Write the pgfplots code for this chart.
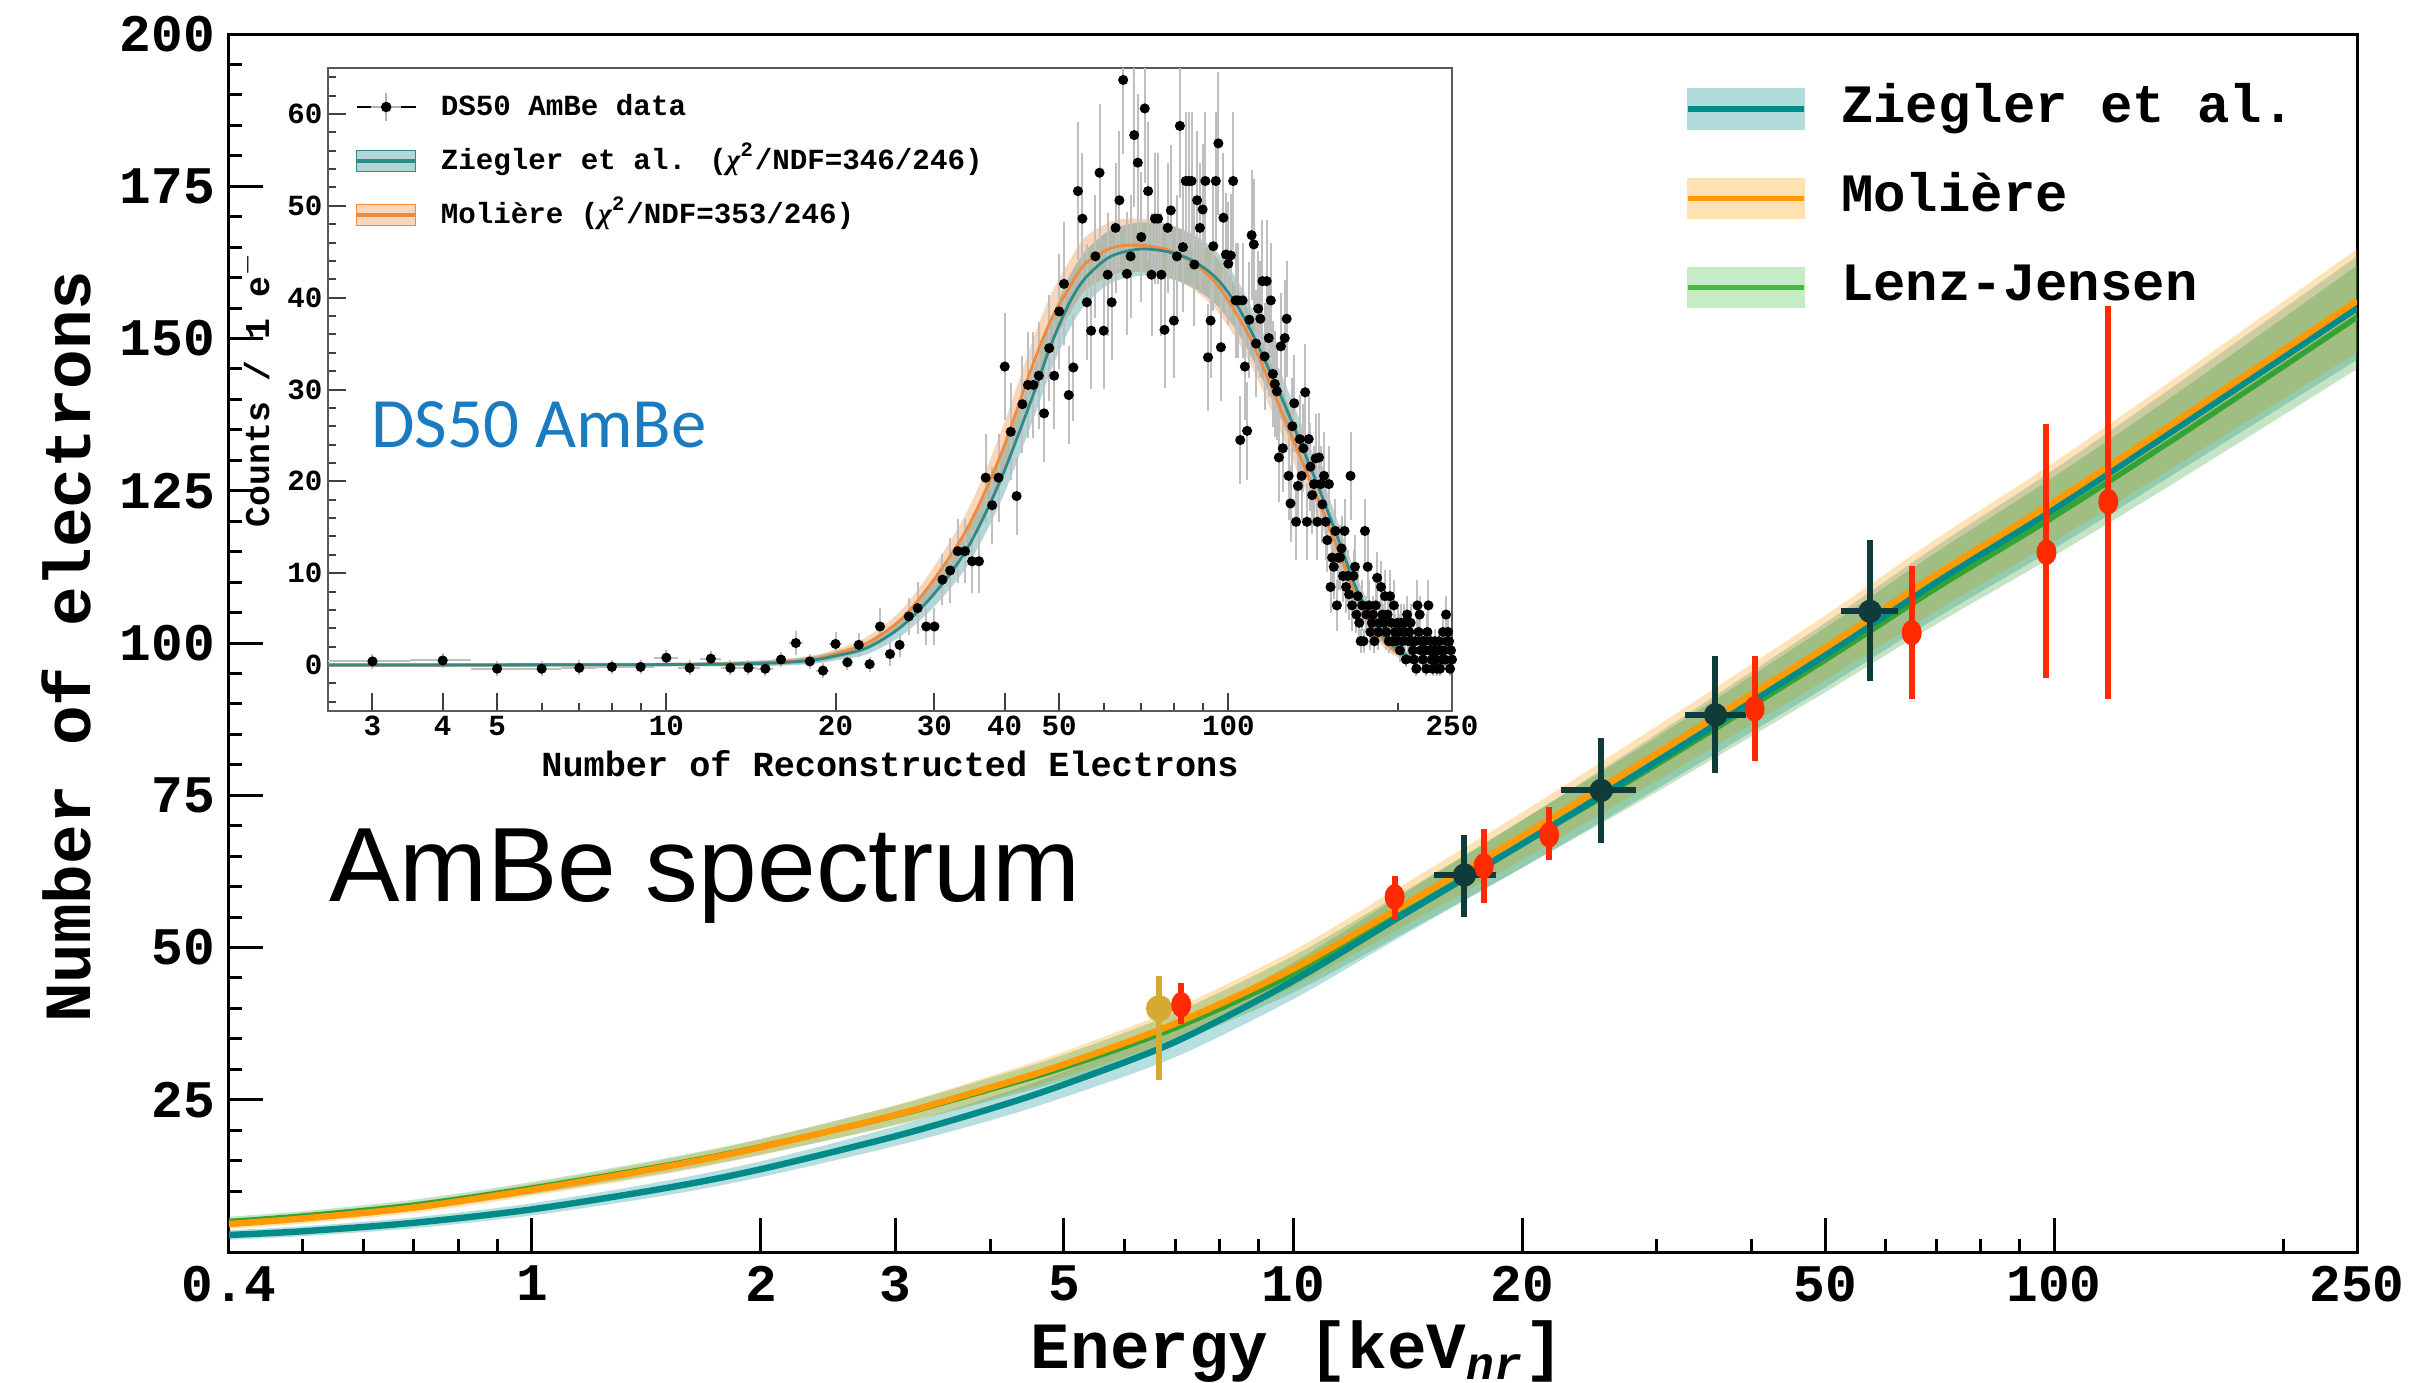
\documentclass[border=0pt]{standalone}
\usepackage{amsmath}
\usepackage{fontspec}
\setmainfont{Liberation Sans}
\newfontfamily\mono{Liberation Mono}
\newfontfamily\serifb{Liberation Serif}
\newfontfamily\dsfont{Carlito}
\usepackage{pgfplots}
\usepackage{pgfplotstable}
\usepgfplotslibrary{fillbetween}
\pgfplotsset{compat=1.18}

\definecolor{zteal}{HTML}{008B8B}
\definecolor{morange}{HTML}{FF9A00}
\definecolor{lgreen}{HTML}{3CC03C}
\definecolor{ptdark}{HTML}{0F3B3B}
\definecolor{ptred}{HTML}{FF2A00}
\definecolor{ptyel}{HTML}{D6AA30}
\definecolor{dsblue}{HTML}{1A7BC0}
\definecolor{iteal}{HTML}{2E8B8B}
\definecolor{iorange}{HTML}{F08A3C}

% main plot model curves: x  y  lo  hi
\pgfplotstableread{
x y lo hi
0.4 2.8 2.0 3.6
0.5 3.4 2.6 4.2
0.7 4.8 3.9 5.7
1 7.0 6.0 8.0
1.5 10.5 9.3 11.7
2 13.6 12.3 14.9
3 19.0 17.4 20.6
4 23.5 21.6 25.4
5 27.5 25.4 29.6
7 34.5 32.0 37.0
10 44.5 41.5 47.5
14 55.5 52.1 58.9
20 67.0 63.1 70.9
30 80.5 76.0 85.0
50 98.0 92.7 103.3
70 110.0 104.1 115.9
100 122.0 115.5 128.5
150 136.5 129.2 143.8
250 155.0 146.5 163.5
}\zie
\pgfplotstableread{
x y lo hi
0.4 4.6 3.8 5.4
0.5 5.5 4.7 6.3
0.7 7.3 6.4 8.2
1 10.2 9.2 11.2
1.5 14.0 12.8 15.2
2 17.2 15.9 18.5
3 22.5 20.9 24.1
4 27.0 25.1 28.9
5 30.8 28.7 32.9
7 37.5 35.0 40.0
10 46.5 43.5 49.5
14 57.0 53.6 60.4
20 68.3 64.4 72.2
30 81.8 77.3 86.3
50 99.2 93.9 104.5
70 111.2 105.3 117.1
100 123.2 116.7 129.7
150 137.7 130.4 145.0
250 156.2 147.7 164.7
}\mol
\pgfplotstableread{
x y lo hi
0.4 5.0 4.2 5.8
0.5 5.9 5.1 6.7
0.7 7.7 6.8 8.6
1 10.5 9.5 11.5
1.5 14.2 13.0 15.4
2 17.3 16.0 18.6
3 22.4 20.8 24.0
4 26.7 24.8 28.6
5 30.3 28.2 32.4
7 36.8 34.3 39.3
10 45.6 42.6 48.6
14 55.8 52.4 59.2
20 67.0 63.1 70.9
30 80.0 75.5 84.5
50 97.2 91.9 102.5
70 109.0 103.1 114.9
100 120.8 114.3 127.3
150 135.0 127.7 142.3
250 153.5 145.0 162.0
}\lenz

% main plot measurements
\pgfplotstableread{
x y xm xp ym yp
16.8 61.9 1.5 1.7 6.9 6.6
25.4 75.8 2.9 2.8 8.6 8.6
35.9 88.2 3.2 3.5 9.6 9.7
57.3 105.2 4.9 5.1 11.4 11.7
}\dark
\pgfplotstableread{
x y ym yp
7.13 40.6 3.1 3.5
13.6 58.3 3.8 3.5
17.8 63.4 6.1 6.1
21.7 68.5 4.1 4.5
40.4 89.2 8.6 8.7
65.0 101.7 10.9 10.9
97.7 114.9 20.6 21.0
117.8 123.2 32.4 32.2
}\red
\pgfplotstableread{
x y ym yp
6.67 40.0 11.7 5.4
}\yel

% inset fits: n y lo hi
\pgfplotstableread{
n y lo hi
2.5 0.0 -0.2 0.2
10 0.05 -0.15 0.25
15 0.2 -0.1 0.5
18 0.5 0.1 0.9
20 1.0 0.5 1.5
22.8 1.9 1.2 2.6
26.2 4.2 3.2 5.2
30 7.8 6.4 9.2
34.4 12.8 10.9 14.7
39.3 20.1 17.7 22.5
45 29.5 26.8 32.2
48.3 34.8 32.0 37.6
52 39.3 36.4 42.2
55.4 42.0 39.1 44.9
60 44.0 41.1 46.9
63.6 44.8 41.9 47.7
70 45.3 42.4 48.2
78 45.0 42.1 47.9
86.6 44.0 41.1 46.9
95.3 42.1 39.2 45.0
103.5 39.2 36.4 42.0
111.3 35.6 32.9 38.3
124 29.3 26.8 31.8
134 24.4 22.1 26.7
145 19.2 17.1 21.3
156.9 13.7 11.9 15.5
169 8.3 6.9 9.7
183 4.3 3.3 5.3
197.8 1.9 1.3 2.5
216 0.65 0.25 1.05
250 0.2 -0.1 0.5
}\fitz
\pgfplotstableread{
n y lo hi
2.5 0.0 -0.2 0.2
10 0.06 -0.14 0.26
15 0.25 -0.05 0.55
18 0.6 0.2 1.0
20 1.2 0.7 1.7
22.8 2.4 1.7 3.1
26.2 5.0 4.0 6.0
30 9.4 8.0 10.8
34.4 15.0 13.1 16.9
39.3 22.8 20.4 25.2
45 32.9 30.2 35.6
48.3 37.5 34.7 40.3
52 41.0 38.1 43.9
55.4 43.6 40.7 46.5
60 45.0 42.1 47.9
63.6 45.6 42.7 48.5
70 45.7 42.8 48.6
78 45.2 42.3 48.1
86.6 43.8 40.9 46.7
95.3 41.5 38.6 44.4
103.5 38.2 35.4 41.0
111.3 34.6 31.9 37.3
124 27.8 25.3 30.3
134 22.8 20.5 25.1
145 17.8 15.7 19.9
156.9 12.5 10.7 14.3
169 7.5 6.1 8.9
183 3.8 2.8 4.8
197.8 1.6 1.0 2.2
216 0.55 0.15 0.95
250 0.15 -0.15 0.45
}\fitm

% inset data: n counts error
\pgfplotstableread{
n c e
3 0.4 0.8
4 0.5 0.8
5 -0.4 0.8
6 -0.4 0.8
7 -0.3 0.8
8 -0.2 0.8
9 -0.2 0.8
10 0.8 0.8
11 -0.3 0.8
12 0.7 0.8
13 -0.3 0.8
14 -0.3 0.8
15 -0.4 0.8
16 0.6 0.8
17 2.4 1.3
18 0.4 0.8
19 -0.6 0.8
20 2.3 1.3
21 0.3 0.8
22 2.2 1.3
23 0.1 0.8
24 4.2 2.0
25 1.2 1.3
26 2.2 1.3
27 5.3 2.0
28 6.2 2.8
29 4.2 2.0
30 4.2 2.0
31 9.3 2.8
32 10.3 3.5
33 12.4 3.5
34 12.4 3.5
35 11.3 3.5
36 11.3 3.5
37 20.4 4.8
38 17.4 4.2
39 20.4 4.8
40 32.5 5.8
41 25.4 5.3
42 18.4 4.2
43 28.4 5.3
44 30.5 5.8
45 30.5 5.8
46 31.5 5.8
47 27.4 5.3
48 34.5 5.8
49 31.5 5.8
50 38.5 6.3
51 41.5 6.7
52 29.4 5.3
53 32.4 5.8
54 51.6 7.5
55 48.6 7.1
56 39.5 6.3
57 36.4 6.3
58 44.5 6.7
59 53.6 7.5
60 36.4 6.3
61 42.5 6.7
62 39.5 6.3
63 47.6 7.1
64 50.6 7.5
65 63.7 8.1
66 42.6 6.7
67 44.5 6.7
68 57.7 7.8
69 54.7 7.5
70 46.6 7.1
71 60.6 8.1
72 51.6 7.5
73 42.5 6.7
74 48.6 7.1
75 48.6 7.1
76 42.5 6.7
77 36.5 6.3
78 47.6 7.1
79 49.5 7.1
80 37.5 6.3
81 44.5 6.7
82 58.7 7.8
83 45.5 7.1
84 52.7 7.5
85 52.7 7.5
86 52.7 7.5
87 43.6 6.7
88 50.6 7.5
89 47.6 7.1
90 49.6 7.1
91 52.7 7.5
92 33.5 5.8
93 37.5 6.3
94 45.6 7.1
95 52.7 7.5
96 56.8 7.8
97 34.6 5.8
98 48.7 7.1
99 44.7 6.7
100 43.7 6.7
101 44.6 6.7
102 52.7 7.5
103 39.7 6.3
104 39.7 6.3
105 24.5 4.8
106 39.7 6.3
107 32.5 5.8
108 25.5 5.3
109 37.6 6.3
110 46.8 7.1
111 45.8 7.1
112 35.0 5.8
113 38.8 6.3
114 37.7 6.3
115 41.8 6.7
116 33.6 5.8
117 41.8 6.7
118 35.6 6.3
119 39.7 6.3
120 31.7 5.8
121 30.6 5.8
122 29.8 5.3
123 22.6 4.8
124 34.7 5.8
125 23.6 4.8
126 35.6 6.3
127 37.7 6.3
128 20.6 4.8
129 17.6 4.2
130 26.0 5.3
131 28.5 5.3
132 15.6 4.2
133 19.5 4.2
134 24.6 4.8
135 20.6 4.8
136 23.6 4.8
137 29.7 5.3
138 15.6 4.2
139 24.6 4.8
140 21.6 4.8
141 18.5 4.2
142 19.7 4.2
143 22.5 4.8
144 15.6 4.2
145 22.6 4.8
146 19.7 4.2
147 17.5 4.2
148 20.6 4.8
149 15.6 4.2
150 13.6 3.5
151 19.7 4.2
152 8.5 2.8
153 11.7 3.5
154 10.7 3.5
155 14.6 3.5
156 6.5 2.8
157 11.7 3.5
158 11.7 3.5
159 12.7 3.5
160 9.7 2.8
161 14.6 3.5
162 8.5 2.8
163 9.7 2.8
164 7.7 2.8
165 20.6 4.8
166 6.5 2.8
167 9.7 2.8
168 10.7 3.5
169 5.5 2.0
170 7.5 2.8
171 4.6 2.0
172 2.6 1.3
173 6.5 2.8
174 2.6 1.3
175 14.6 3.5
176 5.5 2.0
177 10.7 3.5
178 6.5 2.8
179 3.6 2.0
180 4.6 2.0
181 5.5 2.0
182 2.6 1.3
183 6.5 2.8
184 9.5 2.8
185 3.6 2.0
186 4.6 2.0
187 8.5 2.8
188 5.5 2.0
189 4.6 2.0
190 7.5 2.8
191 3.6 2.0
192 5.5 2.0
193 2.6 1.3
194 7.5 2.8
195 4.6 2.0
196 2.6 1.3
197 6.5 2.8
198 3.6 2.0
199 2.6 1.3
200 4.6 2.0
201 3.6 2.0
202 1.6 1.3
203 4.6 2.0
204 2.6 1.3
205 4.6 2.0
206 3.6 2.0
207 0.6 0.8
208 5.5 2.0
209 2.6 1.3
210 3.6 2.0
211 4.6 2.0
212 2.6 1.3
213 1.6 1.3
214 0.6 0.8
215 2.6 1.3
216 -0.4 0.8
217 6.5 2.8
218 3.6 2.0
219 5.5 2.0
220 1.6 1.3
221 2.6 1.3
222 0.6 0.8
223 2.6 1.3
224 1.6 1.3
225 -0.4 0.8
226 3.6 2.0
227 6.5 2.8
228 1.6 1.3
229 2.6 1.3
230 0.6 0.8
231 -0.4 0.8
232 1.6 1.3
233 2.6 1.3
234 0.6 0.8
235 -0.4 0.8
236 1.6 1.3
237 2.6 1.3
238 -0.4 0.8
239 1.6 1.3
240 0.6 0.8
241 3.6 2.0
242 1.6 1.3
243 0.6 0.8
244 5.5 2.0
245 2.6 1.3
246 3.6 2.0
247 2.6 1.3
248 -0.4 0.8
249 1.6 1.3
250 0.6 0.8
}\dsdata

\begin{document}
\begin{tikzpicture}
% ================= MAIN AXIS =================
\begin{axis}[
  at={(0pt,0pt)}, anchor=south west,
  scale only axis, width=532pt, height=304.5pt,
  xmode=log, xmin=0.4, xmax=250, ymin=0, ymax=200,
  xtick={0.4,1,2,3,5,10,20,50,100,250},
  xticklabels={0.4,1,2,3,5,10,20,50,100,250},
  minor xtick={0.5,0.6,0.7,0.8,0.9,4,6,7,8,9,30,40,60,70,80,90,200},
  ytick={25,50,75,100,125,150,175,200},
  minor ytick={5,10,15,20,30,35,40,45,55,60,65,70,80,85,90,95,105,110,115,120,130,135,140,145,155,160,165,170,180,185,190,195},
  tick align=inside, xtick pos=bottom, ytick pos=left,
  major tick length=8.5pt, minor tick length=3.3pt,
  every tick/.style={black, line width=0.75pt},
  axis line style={line width=0.75pt},
  /pgf/number format/assume math mode=true,
  ticklabel style={font=\mono\bfseries\fontsize{13.2}{15}\selectfont},
  xlabel={Energy [keV\textsubscript{\textit{nr}}]},
  ylabel={Number of electrons},
  every axis x label/.style={at={(axis description cs:0.502,0)}, yshift=-25pt, anchor=center, font=\mono\bfseries\fontsize{16.5}{18}\selectfont},
  every axis y label/.style={at={(axis description cs:-0.0766,0.497)}, rotate=90, anchor=center, font=\mono\bfseries\fontsize{16.5}{18}\selectfont},
  legend style={draw=none, fill=none, at={(axis description cs:0.6844,0.9588)}, anchor=north west,
    inner sep=0pt, outer sep=0pt, row sep=9.8pt,
    nodes={inner sep=0pt, text height=9.5pt, text depth=3pt},
    font=\mono\bfseries\fontsize{13.5}{15}\selectfont,
    /tikz/every odd column/.append style={column sep=8.5pt}},
  legend cell align=left,
]
% legend images
\addlegendimage{legend image code/.code={\fill[zteal!30] (0pt,-5pt) rectangle (29pt,5pt); \draw[zteal, line width=1.4pt] (0pt,0pt) -- (29pt,0pt);}}
\addlegendentry{Ziegler et al.}
\addlegendimage{legend image code/.code={\fill[morange!30] (0pt,-5pt) rectangle (29pt,5pt); \draw[morange, line width=1.4pt] (0pt,0pt) -- (29pt,0pt);}}
\addlegendentry{Moli\`ere}
\addlegendimage{legend image code/.code={\fill[lgreen!30] (0pt,-5pt) rectangle (29pt,5pt); \draw[lgreen, line width=1.4pt] (0pt,0pt) -- (29pt,0pt);}}
\addlegendentry{Lenz-Jensen}

% bands
\addplot[name path=zu, draw=none, smooth, forget plot] table[x=x,y=hi]{\zie};
\addplot[name path=zl, draw=none, smooth, forget plot] table[x=x,y=lo]{\zie};
\addplot[fill=zteal, fill opacity=0.28, draw=none, forget plot] fill between[of=zu and zl];
\addplot[name path=mu, draw=none, smooth, forget plot] table[x=x,y=hi]{\mol};
\addplot[name path=ml, draw=none, smooth, forget plot] table[x=x,y=lo]{\mol};
\addplot[fill=morange, fill opacity=0.28, draw=none, forget plot] fill between[of=mu and ml];
\addplot[name path=lu, draw=none, smooth, forget plot] table[x=x,y=hi]{\lenz};
\addplot[name path=ll, draw=none, smooth, forget plot] table[x=x,y=lo]{\lenz};
\addplot[fill=lgreen!80!black, fill opacity=0.28, draw=none, forget plot] fill between[of=lu and ll];
% lines
\addplot[lgreen!85!black, line width=1.4pt, smooth, forget plot] table[x=x,y=y]{\lenz};
\addplot[zteal, line width=1.6pt, smooth, forget plot] table[x=x,y=y]{\zie};
\addplot[morange, line width=1.6pt, smooth, forget plot] table[x=x,y=y]{\mol};

% data points
\addplot[only marks, mark=*, mark size=3.1pt, color=ptyel, forget plot,
  error bars/.cd, y dir=both, y explicit, error mark=none,
  error bar style={line width=1.5pt, ptyel}]
  table[x=x, y=y, y error plus=yp, y error minus=ym]{\yel};
\addplot[only marks, mark=*, mark size=2.3pt, mark options={yscale=1.3}, color=ptred, forget plot,
  error bars/.cd, y dir=both, y explicit, error mark=none,
  error bar style={line width=1.5pt, ptred}]
  table[x=x, y=y, y error plus=yp, y error minus=ym]{\red};
\addplot[only marks, mark=*, mark size=2.7pt, color=ptdark, forget plot,
  error bars/.cd, y dir=both, y explicit, x dir=both, x explicit, error mark=none,
  error bar style={line width=1.5pt, ptdark}]
  table[x=x, y=y, x error plus=xp, x error minus=xm, y error plus=yp, y error minus=ym]{\dark};

\node[anchor=base west, font=\fontsize{26.4}{30}\selectfont] at (axis description cs:0.0404,0.288) {AmBe spectrum};
\end{axis}

% ================= INSET =================
\begin{axis}[
  at={(24.75pt,135.25pt)}, anchor=south west,
  scale only axis, width=281pt, height=160.75pt,
  axis background/.style={fill=white},
  xmode=log, xmin=2.5, xmax=250, ymin=-5, ymax=65,
  xtick={3,4,5,10,20,30,40,50,100,250},
  xticklabels={3,4,5,10,20,30,40,50,100,250},
  minor xtick={6,7,8,9,60,70,80,90,200},
  ytick={0,10,20,30,40,50,60},
  minor ytick={-4,-2,2,4,6,8,12,14,16,18,22,24,26,28,32,34,36,38,42,44,46,48,52,54,56,58,62,64},
  tick align=inside, xtick pos=bottom, ytick pos=left,
  major tick length=4.6pt, minor tick length=2pt,
  every tick/.style={black!75, line width=0.5pt},
  axis line style={black!65, line width=0.6pt},
  /pgf/number format/assume math mode=true,
  ticklabel style={font=\mono\bfseries\fontsize{7.3}{9}\selectfont},
  xticklabel style={inner sep=1pt},
  yticklabel style={inner sep=1.2pt},
  xlabel={Number of Reconstructed Electrons},
  ylabel={Counts / 1 e$^{-}$},
  every axis x label/.style={at={(axis description cs:0.5,0)}, yshift=-13.2pt, anchor=center, font=\mono\bfseries\fontsize{8.8}{10}\selectfont},
  every axis y label/.style={at={(axis description cs:0,0.5)}, xshift=-18.5pt, rotate=90, anchor=center, font=\mono\bfseries\fontsize{8.7}{10}\selectfont},
  legend style={draw=none, fill=none, at={(axis description cs:0.024,0.963)}, anchor=north west,
    inner sep=0pt, outer sep=0pt, row sep=5.9pt,
    nodes={inner sep=0pt, text height=5.8pt, text depth=1.8pt},
    font=\mono\bfseries\fontsize{7.3}{9}\selectfont,
    /tikz/every odd column/.append style={column sep=5.9pt}},
  legend cell align=left,
]
\addlegendimage{legend image code/.code={\path (0pt,0pt) -- (14.75pt,0pt); \draw[black!30, line width=0.5pt] (7.4pt,-3.5pt) -- (7.4pt,3.5pt); \draw[black!30, line width=0.5pt] (3.6pt,0pt) -- (11.2pt,0pt); \fill[black] (7.4pt,0pt) circle (1.1pt);}}
\addlegendentry{DS50 AmBe data}
\addlegendimage{legend image code/.code={\fill[iteal, fill opacity=0.35] (0pt,-2.6pt) rectangle (14.75pt,2.6pt); \draw[iteal, line width=0.8pt] (0pt,0pt) -- (14.75pt,0pt);}}
\addlegendentry{Ziegler et al. ({\serifb\bfseries\itshape χ}\textsuperscript{2}/NDF=346/246)}
\addlegendimage{legend image code/.code={\fill[iorange, fill opacity=0.35] (0pt,-2.6pt) rectangle (14.75pt,2.6pt); \draw[iorange, line width=0.8pt] (0pt,0pt) -- (14.75pt,0pt);}}
\addlegendentry{Moli\`ere ({\serifb\bfseries\itshape χ}\textsuperscript{2}/NDF=353/246)}

\addplot[name path=iou, draw=none, smooth, forget plot] table[x=n,y=hi]{\fitm};
\addplot[name path=iol, draw=none, smooth, forget plot] table[x=n,y=lo]{\fitm};
\addplot[fill=iorange, fill opacity=0.35, draw=none, forget plot] fill between[of=iou and iol];
\addplot[name path=itu, draw=none, smooth, forget plot] table[x=n,y=hi]{\fitz};
\addplot[name path=itl, draw=none, smooth, forget plot] table[x=n,y=lo]{\fitz};
\addplot[fill=iteal, fill opacity=0.35, draw=none, forget plot] fill between[of=itu and itl];

\addplot[only marks, mark=*, mark size=1.05pt, color=black, forget plot,
  error bars/.cd, y dir=both, y explicit, x dir=both, x fixed=0.5, error mark=none,
  error bar style={black!25, line width=0.5pt}]
  table[x=n, y=c, y error=e]{\dsdata};

\addplot[iorange, line width=0.7pt, smooth, forget plot] table[x=n,y=y]{\fitm};
\addplot[iteal, line width=0.7pt, smooth, forget plot] table[x=n,y=y]{\fitz};

\node[anchor=base west, text=dsblue, font=\dsfont\fontsize{17.7}{20}\selectfont] at (axis description cs:0.026,0.41) {DS50 AmBe};
\end{axis}

\pgfresetboundingbox
\useasboundingbox (-57.25pt,-32.75pt) rectangle (548.75pt,313pt);
\end{tikzpicture}
\end{document}
